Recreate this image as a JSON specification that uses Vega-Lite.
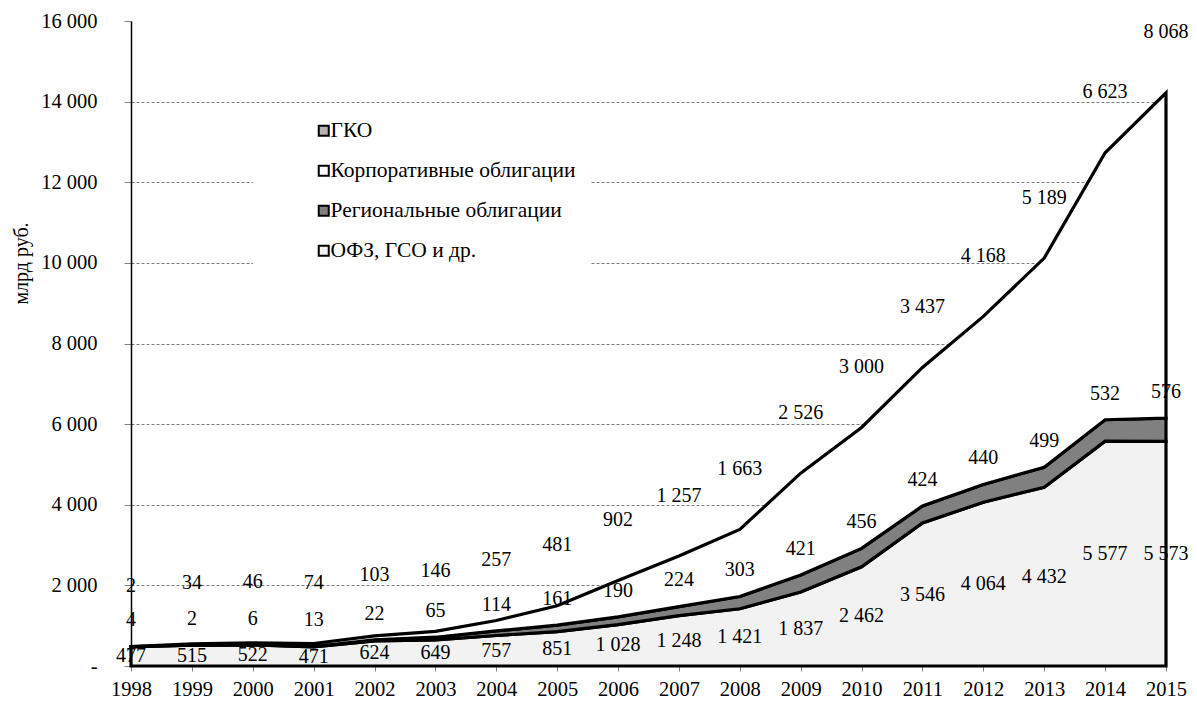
{
  "$schema": "https://vega.github.io/schema/vega-lite/v6.json",
  "width": 1035,
  "height": 645,
  "autosize": "none",
  "padding": {"left": 131, "top": 21, "right": 31, "bottom": 36},
  "background": "white",
  "config": {
    "locale": {"number": {"decimal": ",", "thousands": "\u00a0", "grouping": [3], "currency": ["", ""]}},
    "font": "Liberation Serif",
    "view": {"stroke": null},
    "axis": {"labelFont": "Liberation Serif", "titleFont": "Liberation Serif", "labelFontSize": 20.5, "labelColor": "black", "titleColor": "black"},
    "legend": {"labelFont": "Liberation Serif"},
    "text": {"font": "Liberation Serif"}
  },
  "data": {
    "values": [
      {"year": 1998, "series": "ОФЗ, ГСО и др.", "value": 477},
      {"year": 1999, "series": "ОФЗ, ГСО и др.", "value": 515},
      {"year": 2000, "series": "ОФЗ, ГСО и др.", "value": 522},
      {"year": 2001, "series": "ОФЗ, ГСО и др.", "value": 471},
      {"year": 2002, "series": "ОФЗ, ГСО и др.", "value": 624},
      {"year": 2003, "series": "ОФЗ, ГСО и др.", "value": 649},
      {"year": 2004, "series": "ОФЗ, ГСО и др.", "value": 757},
      {"year": 2005, "series": "ОФЗ, ГСО и др.", "value": 851},
      {"year": 2006, "series": "ОФЗ, ГСО и др.", "value": 1028},
      {"year": 2007, "series": "ОФЗ, ГСО и др.", "value": 1248},
      {"year": 2008, "series": "ОФЗ, ГСО и др.", "value": 1421},
      {"year": 2009, "series": "ОФЗ, ГСО и др.", "value": 1837},
      {"year": 2010, "series": "ОФЗ, ГСО и др.", "value": 2462},
      {"year": 2011, "series": "ОФЗ, ГСО и др.", "value": 3546},
      {"year": 2012, "series": "ОФЗ, ГСО и др.", "value": 4064},
      {"year": 2013, "series": "ОФЗ, ГСО и др.", "value": 4432},
      {"year": 2014, "series": "ОФЗ, ГСО и др.", "value": 5577},
      {"year": 2015, "series": "ОФЗ, ГСО и др.", "value": 5573},
      {"year": 1998, "series": "Региональные облигации", "value": 4},
      {"year": 1999, "series": "Региональные облигации", "value": 2},
      {"year": 2000, "series": "Региональные облигации", "value": 6},
      {"year": 2001, "series": "Региональные облигации", "value": 13},
      {"year": 2002, "series": "Региональные облигации", "value": 22},
      {"year": 2003, "series": "Региональные облигации", "value": 65},
      {"year": 2004, "series": "Региональные облигации", "value": 114},
      {"year": 2005, "series": "Региональные облигации", "value": 161},
      {"year": 2006, "series": "Региональные облигации", "value": 190},
      {"year": 2007, "series": "Региональные облигации", "value": 224},
      {"year": 2008, "series": "Региональные облигации", "value": 303},
      {"year": 2009, "series": "Региональные облигации", "value": 421},
      {"year": 2010, "series": "Региональные облигации", "value": 456},
      {"year": 2011, "series": "Региональные облигации", "value": 424},
      {"year": 2012, "series": "Региональные облигации", "value": 440},
      {"year": 2013, "series": "Региональные облигации", "value": 499},
      {"year": 2014, "series": "Региональные облигации", "value": 532},
      {"year": 2015, "series": "Региональные облигации", "value": 576},
      {"year": 1998, "series": "Корпоративные облигации", "value": 2},
      {"year": 1999, "series": "Корпоративные облигации", "value": 34},
      {"year": 2000, "series": "Корпоративные облигации", "value": 46},
      {"year": 2001, "series": "Корпоративные облигации", "value": 74},
      {"year": 2002, "series": "Корпоративные облигации", "value": 103},
      {"year": 2003, "series": "Корпоративные облигации", "value": 146},
      {"year": 2004, "series": "Корпоративные облигации", "value": 257},
      {"year": 2005, "series": "Корпоративные облигации", "value": 481},
      {"year": 2006, "series": "Корпоративные облигации", "value": 902},
      {"year": 2007, "series": "Корпоративные облигации", "value": 1257},
      {"year": 2008, "series": "Корпоративные облигации", "value": 1663},
      {"year": 2009, "series": "Корпоративные облигации", "value": 2526},
      {"year": 2010, "series": "Корпоративные облигации", "value": 3000},
      {"year": 2011, "series": "Корпоративные облигации", "value": 3437},
      {"year": 2012, "series": "Корпоративные облигации", "value": 4168},
      {"year": 2013, "series": "Корпоративные облигации", "value": 5189},
      {"year": 2014, "series": "Корпоративные облигации", "value": 6623},
      {"year": 2015, "series": "Корпоративные облигации", "value": 8068}
    ]
  },
  "transform": [
    {"calculate": "indexof(['ОФЗ, ГСО и др.','Региональные облигации','Корпоративные облигации','ГКО'], datum.series)", "as": "ord"},
    {"stack": "value", "groupby": ["year"], "sort": [{"field": "ord", "order": "ascending"}], "as": ["v0", "v1"]},
    {"calculate": "datum.ord == 0 ? (datum.v0 + datum.v1) / 2 : (datum.ord == 1 ? datum.v1 + 650 : datum.v1 + 1500)", "as": "labelPos"}
  ],
  "layer": [
    {
      "mark": {"type": "area", "stroke": "black", "strokeWidth": 3.2, "strokeJoin": "miter", "interpolate": "linear"},
      "encoding": {
        "x": {
          "field": "year", "type": "quantitative",
          "scale": {"domain": [1998, 2015], "nice": false, "zero": false},
          "axis": {
            "title": null, "values": [1998,1999,2000,2001,2002,2003,2004,2005,2006,2007,2008,2009,2010,2011,2012,2013,2014,2015],
            "format": "d", "grid": false, "tickSize": 5, "tickColor": "#808080", "domainColor": "black", "domainWidth": 1,
            "labelPadding": 8, "labelFlush": false
          }
        },
        "y": {
          "field": "v1", "type": "quantitative",
          "scale": {"domain": [0, 16000], "nice": false},
          "axis": {
            "title": "млрд  руб.", "titleFontSize": 20, "titleFontWeight": "normal",
            "titleX": -110, "titleY": 242, "titleAlign": "center", "titleBaseline": "middle",
            "values": [0, 2000, 4000, 6000, 8000, 10000, 12000, 14000, 16000],
            "labelExpr": "datum.value == 0 ? '-\u00a0' : datum.label",
            "format": ",d",
            "tickSize": 7, "tickColor": "#808080", "labelPadding": 27,
            "domainColor": "black", "domainWidth": 1.5,
            "grid": true, "gridDash": [3, 2], "gridColor": "#7a7a7a", "gridWidth": 1,
            "gridOpacity": {"condition": {"test": "datum.value >= 16000", "value": 0}, "value": 1}
          }
        },
        "y2": {"field": "v0"},
        "color": {
          "field": "series", "type": "nominal",
          "scale": {
            "domain": ["ГКО", "Корпоративные облигации", "Региональные облигации", "ОФЗ, ГСО и др."],
            "range": ["#b3b3b3", "#ffffff", "#808080", "#f2f2f2"]
          },
          "legend": {
            "title": null, "orient": "none", "legendX": 122, "legendY": 85,
            "fillColor": "white", "padding": 14,
            "symbolType": "square", "symbolSize": 100, "symbolStrokeColor": "black", "symbolStrokeWidth": 2,
            "symbolOffset": 46,
            "labelFontSize": 21.5, "labelColor": "black", "labelLimit": 400, "labelOffset": -4,
            "rowPadding": 17
          }
        }
      }
    },
    {
      "mark": {"type": "text", "fontSize": 20, "font": "Liberation Serif", "color": "black", "align": "center", "baseline": "middle"},
      "encoding": {
        "x": {"field": "year", "type": "quantitative"},
        "y": {"field": "labelPos", "type": "quantitative"},
        "text": {"field": "value", "type": "quantitative", "format": ",d"}
      }
    }
  ]
}
